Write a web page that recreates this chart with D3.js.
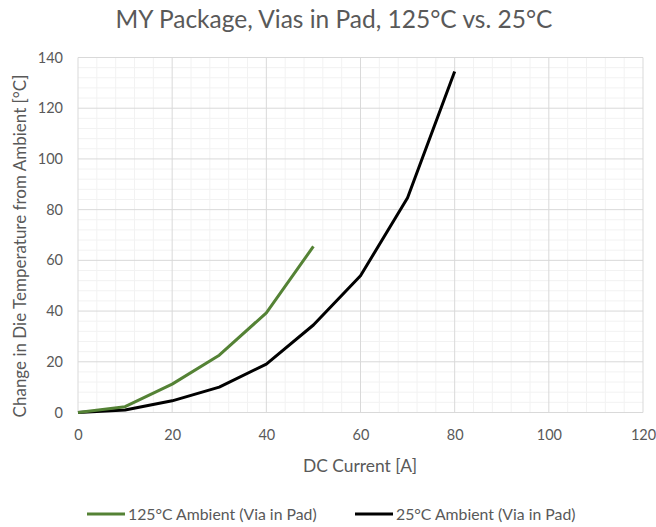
<!DOCTYPE html>
<html>
<head>
<meta charset="utf-8">
<script src="https://cdn.jsdelivr.net/npm/d3@7"></script>
<style>
	body { margin: 0; background: #fff; }
	text { font-family: Lato, "Open Sans", sans-serif; fill: #595959; }
</style>
</head>
<body>
<svg id="chart"></svg>
<script>
const WIDTH = 656,
	HEIGHT = 527;

// data
const currents = [0, 10, 20, 30, 40, 50, 60, 70, 80];
const hot125 = [0, 2.3, 11.2, 22.6, 39.3, 65.5];
const amb25 = [0, 1.0, 4.6, 10.0, 19.1, 34.5, 53.9, 84.7, 134.5];
const seriesNames = ['125°C Ambient (Via in Pad)', '25°C Ambient (Via in Pad)'];
const seriesColors = ['#548235', '#000000'];
const xTicks = [0, 20, 40, 60, 80, 100, 120];
const yTicks = [0, 20, 40, 60, 80, 100, 120, 140];

const plot = { left: 78, right: 643, top: 57.5, bottom: 412.5 };

const svg = d3.select('svg#chart')
	.attr('width', WIDTH)
	.attr('height', HEIGHT);

const x = d3.scaleLinear().domain([0, 120]).range([plot.left, plot.right]),
	y = d3.scaleLinear().domain([0, 140]).range([plot.bottom, plot.top]);

// minor grid
const grid = svg.append('g');
grid.selectAll('line.minor-x').data(d3.range(0, 121, 4).filter(v => v % 20))
	.enter().append('line')
	.attr('x1', d => x(d)).attr('x2', d => x(d))
	.attr('y1', plot.top).attr('y2', plot.bottom)
	.attr('stroke', '#f2f2f2').attr('stroke-width', 1);
grid.selectAll('line.minor-y').data(d3.range(0, 141, 4).filter(v => v % 20))
	.enter().append('line')
	.attr('y1', d => y(d)).attr('y2', d => y(d))
	.attr('x1', plot.left).attr('x2', plot.right)
	.attr('stroke', '#f2f2f2').attr('stroke-width', 1);

// major grid
grid.selectAll('line.major-x').data(xTicks)
	.enter().append('line')
	.attr('x1', d => x(d)).attr('x2', d => x(d))
	.attr('y1', plot.top).attr('y2', plot.bottom)
	.attr('stroke', '#d9d9d9').attr('stroke-width', 1);
grid.selectAll('line.major-y').data(yTicks)
	.enter().append('line')
	.attr('y1', d => y(d)).attr('y2', d => y(d))
	.attr('x1', plot.left).attr('x2', plot.right)
	.attr('stroke', '#d9d9d9').attr('stroke-width', 1);

// axes (labels only)
const xAxis = svg.append('g')
	.attr('transform', `translate(0,${plot.bottom})`)
	.call(d3.axisBottom(x).tickValues(xTicks).tickSize(0).tickPadding(17));
const yAxis = svg.append('g')
	.attr('transform', `translate(${plot.left},0)`)
	.call(d3.axisLeft(y).tickValues(yTicks).tickSize(0).tickPadding(15));
[xAxis, yAxis].forEach(a => {
	a.select('.domain').remove();
	a.selectAll('text').attr('font-size', 14.5).attr('fill', '#595959')
		.style('font-family', 'Lato, sans-serif');
});

// lines
const line = d3.line()
	.x((d, i) => x(currents[i]))
	.y(d => y(d));

svg.append('path')
	.datum(amb25)
	.attr('d', line)
	.attr('fill', 'none')
	.attr('stroke', seriesColors[1])
	.attr('stroke-width', 3)
	.attr('stroke-linejoin', 'round');
svg.append('path')
	.datum(hot125)
	.attr('d', line)
	.attr('fill', 'none')
	.attr('stroke', seriesColors[0])
	.attr('stroke-width', 3)
	.attr('stroke-linejoin', 'round');

// titles
svg.append('text')
	.attr('x', 334).attr('y', 28)
	.attr('text-anchor', 'middle')
	.attr('font-size', 24.5)
	.text('MY Package, Vias in Pad, 125°C vs. 25°C');

svg.append('text')
	.attr('x', 360).attr('y', 472)
	.attr('text-anchor', 'middle')
	.attr('font-size', 17.4)
	.text('DC Current [A]');

svg.append('text')
	.attr('transform', 'translate(26,246) rotate(-90)')
	.attr('text-anchor', 'middle')
	.attr('font-size', 17)
	.text('Change in Die Temperature from Ambient [°C]');

// legend
const legendX = [87, 355];
const legend = svg.append('g').selectAll('g').data(seriesNames)
	.enter().append('g')
	.attr('transform', (d, i) => `translate(${legendX[i]},514)`);
legend.append('line')
	.attr('x1', 0).attr('x2', 38)
	.attr('stroke', (d, i) => seriesColors[i])
	.attr('stroke-width', 3);
legend.append('text')
	.attr('x', 41).attr('y', 6)
	.attr('font-size', 15.8)
	.text(d => d);
</script>
</body>
</html>
